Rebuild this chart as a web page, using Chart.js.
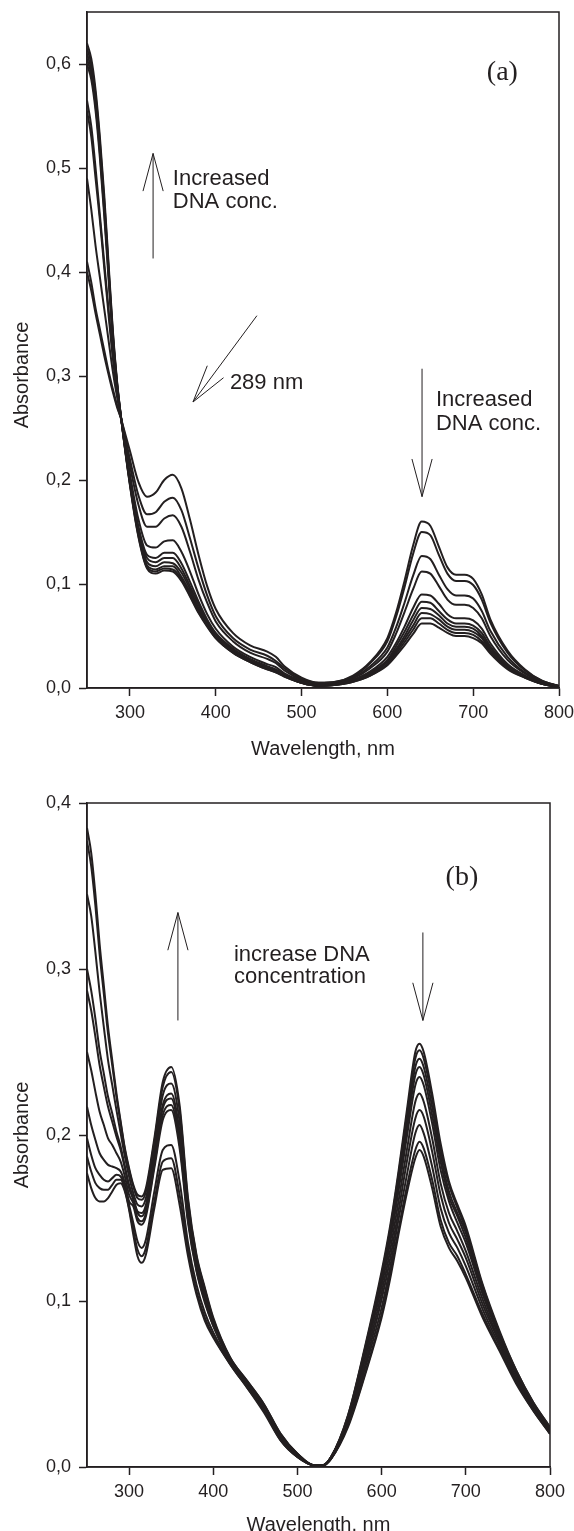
<!DOCTYPE html>
<html>
<head>
<meta charset="utf-8">
<script src="https://cdn.jsdelivr.net/npm/chart.js@4.4.1/dist/chart.umd.min.js"></script>
<style>
  html, body { margin: 0; padding: 0; background: #fff; overflow: hidden; }
  canvas { position: absolute; left: 0; }
  #chartA { top: 0; }
  #chartB { top: 760px; }
</style>
</head>
<body>
<canvas id="chartA" width="574" height="770"></canvas>
<canvas id="chartB" width="574" height="785"></canvas>
<script>
// ---- panel (a): absorbance spectra, one array per DNA addition ----
const wavelengthsA = [250,255,260,265,270,275,280,285,290,300,310,320,330,340,350,360,370,380,390,400,420,440,460,470,480,
  500,520,540,560,580,600,610,620,630,640,650,660,670,680,690,700,710,720,740,760,780,800];
const absA0 = [.41,.39,.365,.345,.325,.305,.288,.272,.258, .228,.198,.184,.188,.200,.205,.192,.162,.128,.098,.076,.053,.041,.035,.030,.021,
  .010,.005,.006,.012,.025,.048,.072,.103,.137,.160,.156,.136,.116,.109,.109,.105,.090,.066,.036,.018,.007,.002];
const absA1 = [.40,.382,.36,.34,.32,.302,.285,.27,.258, .220,.185,.167,.169,.179,.183,.171,.144,.115,.089,.069,.048,.037,.031,.026,.019,
  .009,.005,.006,.011,.024,.045,.068,.097,.129,.150,.147,.128,.110,.103,.103,.099,.085,.063,.034,.017,.007,.002];
const absA2 = [.49,.46,.425,.395,.365,.335,.305,.28,.258, .214,.176,.155,.155,.163,.166,.155,.131,.104,.082,.064,.045,.034,.028,.024,.017,
  .008,.004,.005,.010,.021,.039,.058,.082,.108,.127,.124,.109,.095,.089,.089,.086,.074,.055,.030,.015,.006,.002];
const absA3 = [.555,.53,.49,.45,.405,.36,.318,.285,.258, .206,.162,.137,.135,.141,.142,.131,.112,.090,.071,.057,.040,.030,.023,.020,.014,
  .007,.004,.005,.009,.019,.035,.052,.073,.095,.112,.110,.098,.085,.080,.080,.077,.067,.050,.027,.014,.006,.002];
const absA4 = [.565,.54,.50,.455,.41,.365,.322,.287,.258, .201,.155,.128,.125,.130,.130,.120,.102,.083,.066,.053,.038,.028,.021,.018,.013,
  .006,.003,.004,.008,.016,.030,.043,.059,.077,.090,.089,.081,.071,.067,.067,.065,.057,.043,.023,.012,.005,.001];
const absA5 = [.60,.585,.555,.51,.455,.395,.335,.29,.258, .200,.152,.125,.121,.125,.125,.115,.098,.080,.064,.052,.037,.027,.020,.017,.012,
  .006,.003,.004,.007,.015,.027,.040,.054,.070,.083,.082,.074,.066,.062,.062,.060,.053,.040,.022,.012,.005,.001];
const absA6 = [.605,.59,.56,.515,.46,.40,.338,.292,.258, .198,.150,.121,.117,.121,.120,.111,.095,.077,.063,.051,.036,.026,.020,.016,.012,
  .005,.002,.003,.007,.014,.026,.037,.050,.065,.077,.076,.070,.062,.059,.059,.057,.050,.038,.021,.011,.004,.001];
const absA7 = [.61,.595,.565,.52,.465,.403,.34,.293,.258, .197,.148,.118,.114,.117,.117,.107,.092,.075,.061,.049,.035,.026,.019,.016,.012,
  .005,.002,.003,.007,.013,.025,.035,.047,.060,.072,.071,.066,.059,.056,.056,.054,.048,.036,.020,.011,.004,.001];
const absA8 = [.615,.60,.57,.525,.47,.406,.343,.294,.258, .196,.146,.116,.112,.115,.114,.105,.089,.073,.060,.048,.034,.025,.018,.015,.011,
  .005,.002,.003,.006,.012,.023,.033,.044,.056,.067,.067,.062,.056,.053,.053,.051,.045,.035,.019,.010,.004,.001];
const absA9 = [.62,.605,.575,.53,.475,.41,.345,.295,.258, .195,.145,.115,.110,.113,.112,.103,.088,.072,.059,.048,.034,.025,.018,.015,.011,
  .005,.002,.003,.006,.012,.022,.031,.041,.052,.062,.062,.058,.053,.050,.050,.048,.043,.033,.018,.010,.004,.001];

// ---- panel (b) ----
const wavelengthsB = [250,255,260,265,270,275,280,285,290,295,300,305,310,315,320,330,340,350,360,370,380,390,400,420,440,460,480,500,
  520,530,540,560,580,600,610,620,630,640,645,650,660,670,680,690,700,720,740,760,780,800];
const absB0 = [.177,.168,.162,.160,.160,.162,.166,.170,.171,.166,.155, .140,.127,.123,.128,.156,.179,.180,.158,.127,.104,.088,.078,.062,.048,.033,.016,.006,
  .001,.001,.006,.031,.072,.118,.145,.178,.215,.250,.255,.250,.225,.195,.172,.158,.145,.110,.082,.058,.039,.024];
const absB1 = [.187,.178,.171,.168,.167,.167,.170,.173,.173,.167,.156, .143,.131,.127,.132,.160,.184,.186,.164,.131,.106,.090,.079,.062,.048,.034,.016,.006,
  .001,.001,.006,.031,.071,.116,.143,.176,.212,.246,.251,.246,.222,.192,.170,.156,.143,.109,.081,.058,.039,.024];
const absB2 = [.198,.188,.180,.176,.173,.172,.174,.176,.175,.169,.158, .147,.136,.132,.137,.166,.191,.194,.172,.135,.110,.093,.081,.063,.049,.034,.017,.006,
  .001,.001,.006,.030,.070,.114,.141,.173,.208,.241,.246,.241,.217,.188,.166,.153,.141,.107,.080,.057,.038,.023];
const absB3 = [.217,.206,.197,.189,.185,.182,.181,.180,.178,.171,.160, .157,.148,.146,.151,.180,.209,.215,.192,.147,.118,.099,.085,.064,.050,.036,.018,.007,
  .001,.001,.006,.029,.068,.112,.138,.170,.204,.236,.241,.236,.212,.184,.163,.151,.138,.106,.079,.056,.038,.023];
const absB4 = [.250,.239,.226,.214,.206,.198,.194,.189,.184,.175,.164, .159,.150,.148,.153,.182,.212,.218,.195,.149,.119,.100,.085,.064,.050,.036,.018,.007,
  .001,.001,.006,.029,.067,.109,.135,.166,.199,.230,.235,.230,.207,.179,.160,.147,.135,.104,.078,.056,.037,.023];
const absB5 = [.287,.275,.259,.242,.229,.217,.208,.199,.191,.180,.168, .161,.153,.151,.156,.185,.216,.222,.199,.151,.121,.102,.086,.065,.051,.036,.019,.007,
  .001,.001,.006,.028,.064,.105,.130,.160,.191,.220,.225,.220,.198,.171,.153,.142,.130,.101,.076,.054,.037,.022];
const absB6 = [.300,.287,.270,.251,.237,.223,.213,.202,.193,.181,.170, .162,.154,.153,.158,.187,.218,.225,.202,.153,.122,.103,.087,.065,.051,.037,.019,.007,
  .001,.001,.005,.027,.061,.101,.125,.154,.184,.210,.215,.211,.190,.164,.147,.137,.126,.098,.075,.053,.036,.022];
const absB7 = [.345,.332,.310,.286,.265,.245,.230,.215,.201,.187,.175, .165,.158,.157,.162,.191,.224,.231,.208,.156,.124,.105,.088,.065,.051,.037,.019,.008,
  .001,.001,.005,.026,.059,.096,.120,.149,.176,.201,.206,.201,.181,.156,.141,.132,.121,.095,.073,.052,.035,.021];
const absB8 = [.377,.362,.338,.309,.285,.261,.242,.223,.207,.191,.179, .169,.162,.161,.166,.196,.229,.238,.215,.160,.127,.107,.089,.066,.052,.038,.020,.008,
  .001,.001,.005,.025,.056,.092,.116,.143,.169,.191,.196,.192,.173,.149,.135,.127,.116,.092,.071,.051,.034,.020];
const absB9 = [.385,.370,.345,.315,.290,.265,.245,.225,.208,.192,.180, .170,.164,.163,.168,.198,.232,.241,.218,.162,.128,.108,.090,.066,.052,.038,.020,.008,
  .001,.001,.005,.024,.055,.090,.113,.140,.165,.186,.191,.187,.168,.145,.132,.124,.114,.090,.070,.050,.034,.020];

const xTicks = [300, 400, 500, 600, 700, 800];
const yTicksA = [0, 0.1, 0.2, 0.3, 0.4, 0.5, 0.6];
const yTicksB = [0, 0.1, 0.2, 0.3, 0.4];

const INK = '#231f20';
const SANS = '"Liberation Sans", Arial, sans-serif';

// annotations, placed in data units
const notesA = [
  { text: '(a)', at: [734, 0.592], font: '28px "Liberation Serif", serif', align: 'center', base: 'middle' },
  { arrow: [[327, 0.413], [327, 0.514]] },
  { text: 'Increased', at: [350, 0.484] },
  { text: 'DNA conc.', at: [350, 0.462] },
  { arrow: [[448, 0.358], [373.5, 0.275]] },
  { text: '289 nm', at: [416.5, 0.293], base: 'middle' },
  { arrow: [[640.4, 0.307], [640.4, 0.184]] },
  { text: 'Increased', at: [656.6, 0.271] },
  { text: 'DNA conc.', at: [656.6, 0.248] }
];
const notesB = [
  { text: '(b)', at: [695.4, 0.355], font: '28px "Liberation Serif", serif', align: 'center', base: 'middle' },
  { arrow: [[358, 0.269], [358, 0.334]] },
  { text: 'increase DNA', at: [424.6, 0.305] },
  { text: 'concentration', at: [424.6, 0.2916] },
  { arrow: [[649, 0.322], [649, 0.269]] }
];

function drawArrow(ctx, x1, y1, x2, y2) {
  const ang = Math.atan2(y2 - y1, x2 - x1);
  const len = 39, spread = 15 * Math.PI / 180;
  ctx.beginPath();
  ctx.moveTo(x1, y1);
  ctx.lineTo(x2, y2);
  ctx.moveTo(x2 - len * Math.cos(ang - spread), y2 - len * Math.sin(ang - spread));
  ctx.lineTo(x2, y2);
  ctx.lineTo(x2 - len * Math.cos(ang + spread), y2 - len * Math.sin(ang + spread));
  ctx.stroke();
}

// frame round the plot area plus arrows and labels
function panelExtras(notes) {
  return {
    id: 'panelExtras',
    afterDraw(chart) {
      const { ctx, chartArea: a, scales: { x, y } } = chart;
      ctx.save();
      ctx.strokeStyle = INK;
      ctx.lineWidth = 1.5;
      ctx.strokeRect(a.left, a.top, a.right - a.left, a.bottom - a.top);
      ctx.lineWidth = 1;
      ctx.fillStyle = INK;
      notes.forEach(n => {
        if (n.arrow) {
          const [p, q] = n.arrow;
          drawArrow(ctx, x.getPixelForValue(p[0]), y.getPixelForValue(p[1]),
                    x.getPixelForValue(q[0]), y.getPixelForValue(q[1]));
        } else {
          ctx.font = n.font || '22px ' + SANS;
          ctx.textAlign = n.align || 'left';
          ctx.textBaseline = n.base || 'alphabetic';
          ctx.fillText(n.text, x.getPixelForValue(n.at[0]), y.getPixelForValue(n.at[1]));
        }
      });
      ctx.restore();
    }
  };
}

function spectra(wl, series) {
  return series.map(vals => ({
    data: vals.map((v, i) => ({ x: wl[i], y: v })),
    borderColor: INK,
    borderWidth: 2,
    pointRadius: 0,
    fill: false,
    cubicInterpolationMode: 'monotone'
  }));
}

function panel(id, datasets, yMax, yTicks, notes, pad, xAxisH, titlePad, yTitle) {
  new Chart(document.getElementById(id), {
    type: 'line',
    data: { datasets },
    options: {
      responsive: false,
      animation: false,
      devicePixelRatio: 1,
      layout: { padding: pad },
      plugins: { legend: { display: false }, tooltip: { enabled: false } },
      scales: {
        x: {
          type: 'linear', min: 250, max: 800,
          afterBuildTicks: s => { s.ticks = xTicks.map(v => ({ value: v })); },
          afterFit: s => { s.height = xAxisH; s.paddingLeft = 0; s.paddingRight = 0; },
          border: { display: true, color: INK, width: 1.5 },
          grid: { drawOnChartArea: false, color: INK, tickLength: 8, tickWidth: 1.5 },
          ticks: { color: INK, font: { family: SANS, size: 18 }, padding: 6, maxRotation: 0 },
          title: { display: true, text: 'Wavelength, nm', color: INK,
                   font: { family: SANS, size: 20 }, padding: { top: 0, bottom: titlePad } }
        },
        y: {
          min: 0, max: yMax,
          afterBuildTicks: s => { s.ticks = yTicks.map(v => ({ value: v })); },
          afterFit: s => { s.width = 87; s.paddingTop = 0; s.paddingBottom = 0; },
          border: { display: true, color: INK, width: 1.5 },
          grid: { drawOnChartArea: false, color: INK, tickLength: 8, tickWidth: 1.5 },
          ticks: { color: INK, font: { family: SANS, size: 18 }, padding: 8,
                   callback: v => v.toFixed(1).replace('.', ',') },
          title: { display: true, text: yTitle, color: INK,
                   font: { family: SANS, size: 20 }, padding: { top: 10, bottom: 0 } }
        }
      }
    },
    plugins: [panelExtras(notes)]
  });
}

// panel (a) has its axis title set a little below the middle, hence the trailing spaces
panel('chartA',
  spectra(wavelengthsA, [absA0, absA1, absA2, absA3, absA4, absA5, absA6, absA7, absA8, absA9]),
  0.65, yTicksA, notesA, { top: 12, right: 15, left: 0, bottom: 0 }, 82, 9, 'Absorbance         ');

panel('chartB',
  spectra(wavelengthsB, [absB0, absB1, absB2, absB3, absB4, absB5, absB6, absB7, absB8, absB9]),
  0.4, yTicksB, notesB, { top: 43, right: 24, left: 0, bottom: 0 }, 78, 8, 'Absorbance');
</script>
</body>
</html>
